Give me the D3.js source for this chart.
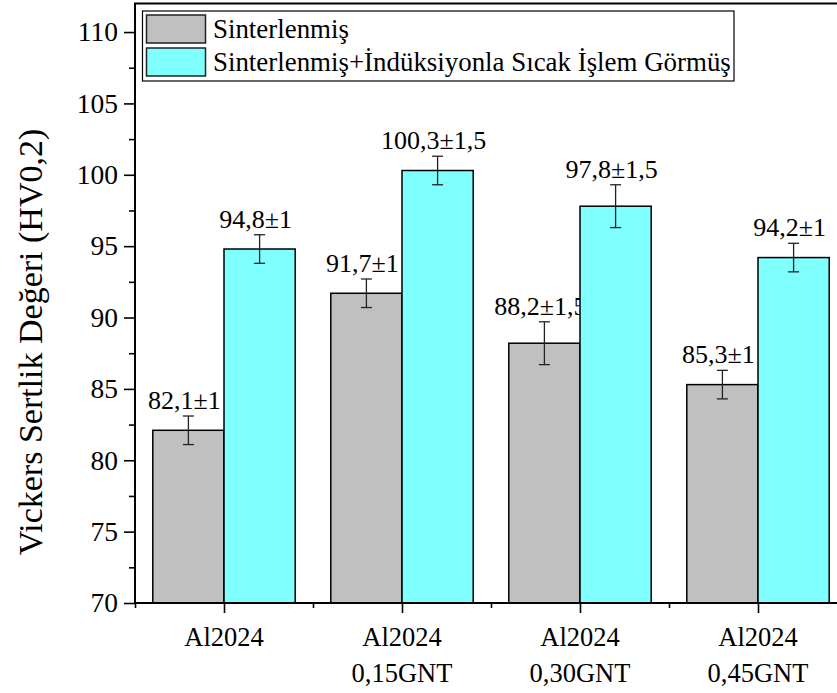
<!DOCTYPE html>
<html><head><meta charset="utf-8">
<script src="https://cdn.jsdelivr.net/npm/d3@7"></script>
<style>
body{margin:0;background:#fff;}
svg text{font-family:"Liberation Serif","Times New Roman",serif !important;fill:#000;}
</style></head>
<body><svg id="c" width="837" height="693"></svg>
<script>
const categories = [["Al2024"],["Al2024","0,15GNT"],["Al2024","0,30GNT"],["Al2024","0,45GNT"]];
const seriesNames = ["Sinterlenmiş","Sinterlenmiş+İndüksiyonla Sıcak İşlem Görmüş"];
const sinterValues = [82.1, 91.7, 88.2, 85.3];
const sinterErrors = [1, 1, 1.5, 1];
const sinterLabels = ["82,1±1","91,7±1","88,2±1,5","85,3±1"];
const inductionValues = [94.8, 100.3, 97.8, 94.2];
const inductionErrors = [1, 1, 1.5, 1];
const inductionLabels = ["94,8±1","100,3±1,5","97,8±1,5","94,2±1"];
const yTicks = [70,75,80,85,90,95,100,105,110];
const yMinorTicks = [72.5,77.5,82.5,87.5,92.5,97.5,102.5,107.5];
const yTitle = "Vickers Sertlik Değeri (HV0,2)";

const FONT = '"Liberation Serif","Times New Roman",serif';
const colors = ["#c0c0c0", "#80ffff"];
const svg = d3.select("#c");
const L = 135, R = 847, T = 3.5, B = 603;
const x = d3.scaleLinear().domain([0.5, 4.5]).range([L, R]);
const y = d3.scaleLinear().domain([70, 112]).range([B, T]);
const bw = 0.4;

const series = [
  {vals: sinterValues, errs: sinterErrors, labels: sinterLabels, off: -bw, color: colors[0]},
  {vals: inductionValues, errs: inductionErrors, labels: inductionLabels, off: 0, color: colors[1]}
];

series.forEach(s => {
  const g = svg.append("g");
  g.selectAll("rect").data(s.vals).enter().append("rect")
    .attr("x", (d,i) => x(i+1+s.off))
    .attr("y", d => y(d))
    .attr("width", x(1+bw) - x(1))
    .attr("height", d => y(70) - y(d))
    .attr("fill", s.color).attr("stroke", "#000").attr("stroke-width", 1.5);
  s.vals.forEach((v,i) => {
    const cx = x(i+1+s.off+bw/2);
    const e = s.errs[i];
    const eg = g.append("g").attr("stroke", "#222").attr("stroke-width", 1.3);
    eg.append("line").attr("x1", cx).attr("x2", cx).attr("y1", y(v+e)).attr("y2", y(v-e));
    eg.append("line").attr("x1", cx-5.5).attr("x2", cx+5.5).attr("y1", y(v+e)).attr("y2", y(v+e));
    eg.append("line").attr("x1", cx-5.5).attr("x2", cx+5.5).attr("y1", y(v-e)).attr("y2", y(v-e));
    g.append("text").attr("x", cx - 4).attr("y", y(v+e) - 7)
      .attr("text-anchor", "middle").style("font-family", FONT).style("font-size", "26px").text(s.labels[i]);
  });
});

// y axis
const yAxis = d3.axisLeft(y).tickValues(yTicks).tickSize(11).tickPadding(6).tickFormat(d3.format("d"));
const ya = svg.append("g").attr("transform", `translate(${L},0)`).call(yAxis);
ya.attr("font-family", null).attr("font-size", null);
ya.select(".domain").remove();
ya.selectAll(".tick line").attr("stroke-width", 1.6);
ya.selectAll("text").style("font-family", FONT).style("font-size", "27.5px");
const yMinor = svg.append("g").attr("transform", `translate(${L},0)`)
  .call(d3.axisLeft(y).tickValues(yMinorTicks).tickSize(6).tickFormat(""));
yMinor.select(".domain").remove();
yMinor.selectAll(".tick line").attr("stroke-width", 1.6);

// x axis
const xa = svg.append("g").attr("transform", `translate(0,${B})`)
  .call(d3.axisBottom(x).tickValues([1,2,3,4]).tickSize(10).tickFormat(""));
xa.select(".domain").remove();
xa.selectAll(".tick line").attr("stroke-width", 1.6);
const xMinor = svg.append("g").attr("transform", `translate(0,${B})`)
  .call(d3.axisBottom(x).tickValues([0.5,1.5,2.5,3.5,4.5]).tickSize(5).tickFormat(""));
xMinor.select(".domain").remove();
xMinor.selectAll(".tick line").attr("stroke-width", 1.6);
categories.forEach((c,i) => {
  const t = svg.append("text").attr("x", x(i+1)).attr("y", 645.5)
    .attr("text-anchor", "middle").style("font-family", FONT).style("font-size", "26.5px");
  c.forEach((line,j) => t.append("tspan").attr("x", x(i+1)).attr("dy", j ? 36 : 0).text(line));
});

// frame
svg.append("rect").attr("x", L).attr("y", T).attr("width", R-L).attr("height", B-T)
  .attr("fill", "none").attr("stroke", "#000").attr("stroke-width", 2);

// y title
svg.append("text").attr("transform", `translate(42,342) rotate(-90)`)
  .attr("text-anchor", "middle").style("font-family", FONT).style("font-size", "34px").text(yTitle);

// legend
const lg = svg.append("g");
lg.append("rect").attr("x", 142.5).attr("y", 11).attr("width", 591.5).attr("height", 70)
  .attr("fill", "#fff").attr("stroke", "#000").attr("stroke-width", 1.2);
seriesNames.forEach((n,i) => {
  lg.append("rect").attr("x", 146.5).attr("y", 15 + i*33).attr("width", 59).attr("height", 28)
    .attr("fill", colors[i]).attr("stroke", "#222").attr("stroke-width", 1.5);
  lg.append("text").attr("x", 213).attr("y", 38 + i*33).style("font-family", FONT).style("font-size", "26.9px").text(n);
});
</script></body></html>
